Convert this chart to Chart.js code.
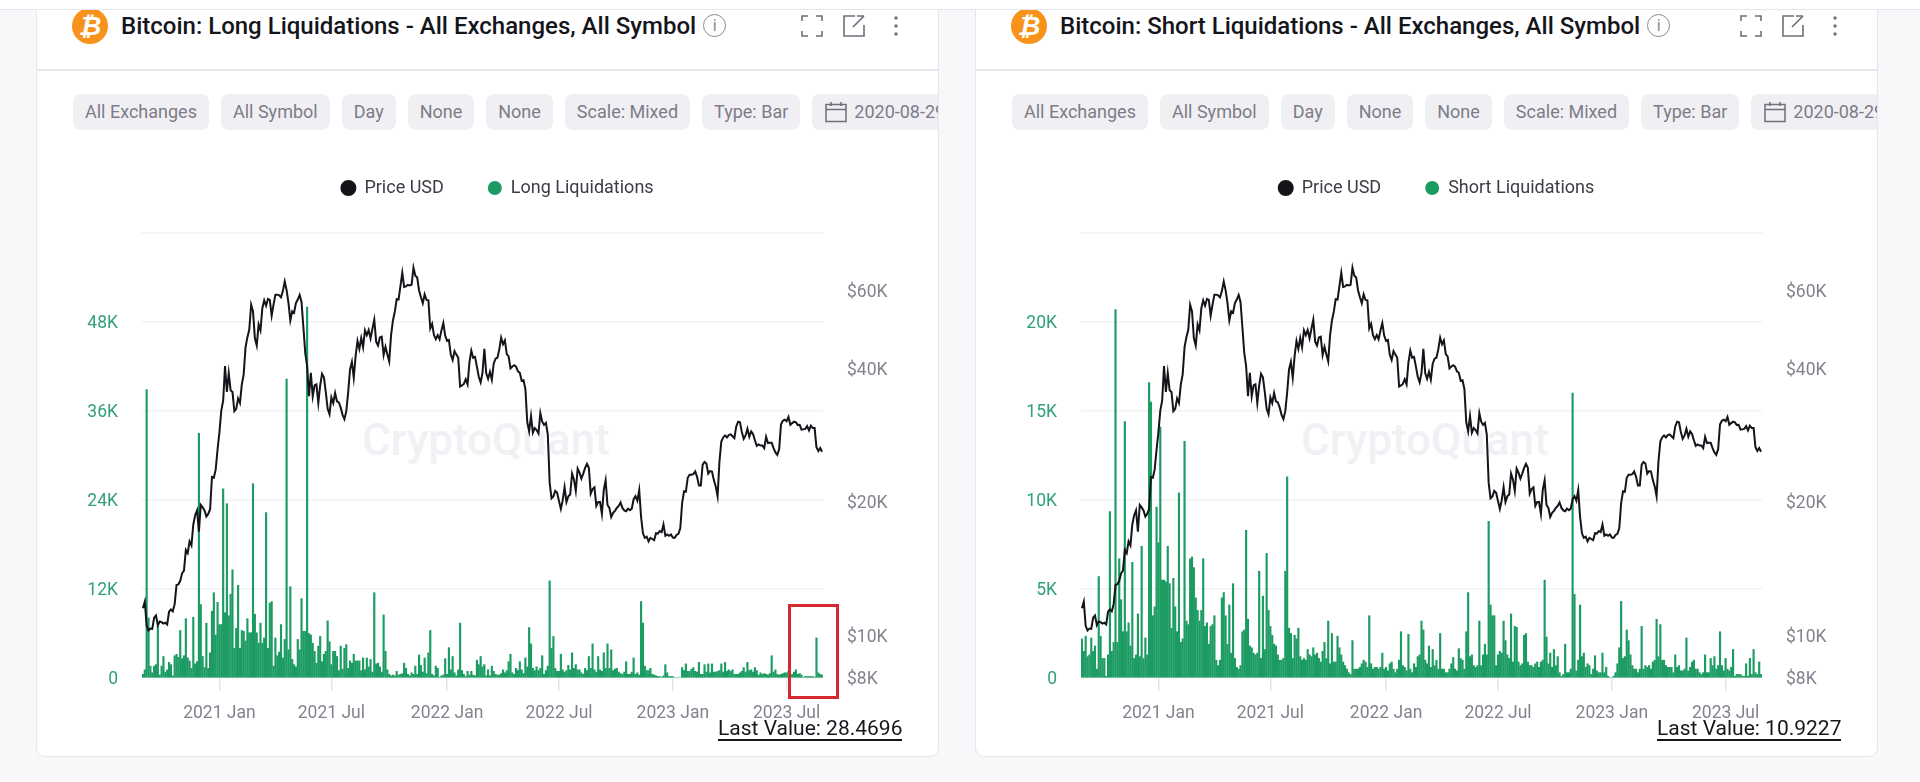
<!DOCTYPE html>
<html>
<head>
<meta charset="utf-8">
<title>Bitcoin Liquidations</title>
<script src="https://cdn.jsdelivr.net/npm/chart.js@4/dist/chart.umd.min.js"></script>
<style>
html, body { margin: 0; padding: 0; width: 1920px; height: 782px; overflow: hidden; background: #f8f8fb; font-family: Roboto, sans-serif; }
#topStrip { position: absolute; left: 0; top: 0; width: 1920px; height: 9px; background: #fff; border-bottom: 1px solid #e4e4ea; }
.card { position: absolute; top: 10px; width: 901px; height: 746px; background: #fff; overflow: hidden; box-shadow: 0 0 0 1px #e6e6ee; border-radius: 0 0 8px 8px; }
.card > * { position: absolute; }
.coin { left: 35px; top: -2px; width: 36px; height: 36px; border-radius: 50%; background: #f7931a; color: #fff; font: italic bold 26px "DejaVu Sans", sans-serif; line-height: 36px; text-align: center; }
.title { left: 84px; top: 2px; font-size: 24px; font-weight: 500; color: #15151c; line-height: 28px; white-space: nowrap; display: flex; align-items: center; gap: 7px; }
.info { width: 21px; height: 21px; border: 1px solid #8a8994; border-radius: 50%; color: #8a8994; font-size: 16px; font-weight: 400; line-height: 21px; text-align: center; margin-top: -2px; }
.divider { left: 0; top: 59px; width: 100%; height: 2px; background: #e6e6ec; }
.chips { left: 36px; top: 84px; display: flex; gap: 12px; white-space: nowrap; }
.chip { flex: none; height: 36px; line-height: 36px; padding: 0 12px; background: #f0f0f4; border-radius: 8px; font-size: 18px; color: #7d7c88; display: flex; align-items: center; gap: 7px; }
.chip.date { min-width: 160px; box-sizing: border-box; padding-left: 13px; }
.mark { left: 325px; top: 405px; font-size: 44px; font-weight: 500; color: #f1f1f5; white-space: nowrap; line-height: 50px; }
canvas { left: 20px; top: 125px; }
.lastValue { left: 681px; top: 707px; font-size: 21px; color: #16161c; line-height: 22px; white-space: nowrap; border-bottom: 2px solid #16161c; }
.redBox { left: 751px; top: 594px; width: 45px; height: 89px; border: 3px solid #d7282f; }
svg { display: block; }
.icon { top: 5px; }
</style>
</head>
<body>
<div id="topStrip"></div>
<script>
// ------------------ Dados ------------------
const startDate = '2020-08-29';
const stepDays = 3;

const priceValues = [
11500,11900,10500,10250,10350,10330,10950,11080,10530,10740,10700,10620,10670,10570,11300,11430,11320,11750,12990,13030,13270,13800,14000,15580,15330,16300,15960,17800,18680,19160,17150,19700,19450,19150,18550,18800,19270,22800,22700,23700,26300,28800,
32200,33900,40600,35500,39150,35800,35500,32100,32500,34300,33500,36900,38900,44800,47200,49100,55900,54000,47000,45200,50400,48900,54900,57200,55600,57600,57300,52800,55900,58900,58900,58700,58100,60000,63100,60300,56400,51500,54000,53600,56400,57400,58800,56700,49700,43500,40600,34700,39200,34700,36700,36900,33500,36700,39000,38300,35500,32500,31600,34500,33500,35300,33800,33600,32700,31500,30800,32100,35400,39900,41500,38200,42800,46300,44400,47000,44800,48900,47700,49000,46900,49300,51700,46100,45200,47100,47300,43000,44900,43200,41600,47700,51500,53900,57500,57400,61500,66000,61300,61500,62000,61800,62000,67800,65000,64400,60200,58100,56300,59000,57300,57200,49400,50600,47700,46700,47700,46700,48900,50800,47600,46300,
46500,43100,41900,43900,43100,42400,36500,36700,37000,37900,36900,41400,44000,42400,42600,40500,38400,37300,39200,44400,39100,38000,39400,37800,41100,42200,42400,44300,47100,45500,46400,43200,42700,40100,40500,40800,40500,39500,39200,37600,37700,36000,30300,28900,31300,28700,29400,29100,28600,31800,30400,29900,30200,28400,22100,20400,20600,21200,21000,20100,19300,20200,21600,20000,20600,20800,23200,22500,21200,23800,23300,22600,23200,23900,24400,23900,20900,21400,21600,19600,20000,20000,18800,21300,22400,19700,19400,18500,18900,19100,19400,19600,19950,19400,19150,19070,19330,19170,19330,20300,20630,20150,21300,18500,17000,16600,16700,16300,16600,16500,16400,17000,16970,17200,17100,17800,16780,16900,16780,16900,16630,
16600,16850,16950,17450,19900,21150,21100,22700,23050,23050,23130,23450,22800,21800,21800,24300,24640,24450,23200,23500,23450,22420,21700,20600,24700,27400,28000,28300,28000,28350,28450,28170,27900,29650,30400,30300,28800,27800,28300,29300,28100,28900,28500,27600,26800,27000,26850,26850,26480,28080,27200,27250,27230,26500,25900,25570,26340,30000,30550,30700,30470,31150,29900,30170,30400,30290,29860,29900,29170,29200,29270,29700,29050,29760,29400,29400,26600,26100,26500,26000
];

const longValues = [
500,1100,38900,8100,1600,700,1600,1800,7000,400,1600,2900,800,1100,2100,1800,300,3000,3200,2800,
6400,2600,3000,8000,2700,2300,1300,8200,1900,2200,33000,9900,2900,1400,7400,1300,3400,9000,11500,5800,
10200,7200,7200,25500,8800,23500,8400,11300,14600,4000,6700,12500,4000,6400,6300,5000,8000,6100,6100,26200,
8600,6100,4700,7400,4700,5400,22300,4000,10100,10300,1600,5400,3000,3500,7200,2700,5200,40300,3800,12300,
2500,1800,1500,5200,3800,10700,6300,6300,50000,6000,5800,4700,3600,2000,4300,5600,2200,3200,3600,7700,
4900,1800,3600,3600,2900,1000,4300,1200,4000,4500,1300,2300,2000,3200,2300,2300,2300,1000,2700,1100,
2700,1500,2500,800,11500,1900,2000,1500,800,8500,3600,1100,500,300,400,300,900,400,500,600,
2000,1300,500,300,700,500,1600,500,3100,1700,800,2700,600,3400,6400,500,300,1600,1300,100,
300,400,2600,500,4100,1100,2900,700,300,1100,7400,1000,500,200,900,400,900,400,300,2400,
1800,2900,1500,1800,300,1100,300,1600,900,500,400,400,600,1100,700,1000,2200,3200,700,500,
1300,1000,2200,1100,600,2700,1500,6800,4600,1300,1000,1500,1000,1300,3000,500,1000,1600,13100,4000,
5600,1300,900,900,3200,1100,800,1000,1700,1100,3400,1300,1800,1100,1100,700,500,1300,1000,2900,
1300,4600,1100,800,2900,1100,900,3400,1300,4600,1300,3800,1000,1200,1300,800,600,500,800,2200,
500,500,800,2700,500,700,400,10300,7400,1600,1000,1000,1300,500,400,300,200,200,100,300,
1800,700,200,200,200,0,0,0,0,1400,1000,1900,900,900,1200,1400,900,800,2100,500,
500,1800,800,1900,700,1900,800,800,900,1000,1900,800,2100,900,1100,900,1100,500,500,500,
700,900,1400,800,2100,1000,1100,800,1400,1000,400,700,500,600,500,400,600,3000,800,1100,
500,400,500,600,700,700,900,300,500,800,1100,500,600,400,100,200,200,200,200,200,
100,5400,700,500,400
];

const shortValues = [
2200,1500,2350,1200,1300,2250,1500,1800,500,5700,2350,1100,1100,100,1300,9350,1500,2000,20700,2000,
6700,4400,2600,14400,2600,3100,1800,6500,1100,1300,3600,1200,7400,1100,2250,1300,16600,15500,3500,4000,
9600,7600,14100,5500,5500,5400,7400,5300,2800,5600,4000,2600,10400,2000,2200,13300,3200,3000,6700,6800,
6200,4500,3800,3200,3800,6700,2900,3100,1900,2900,3000,3500,1000,700,1000,4500,4800,3500,1900,4100,
1400,5300,1100,600,500,700,2600,2700,8300,3300,1800,1700,1400,1300,1400,6000,1100,4600,1600,7000,
3800,2900,2400,1900,1800,1300,1000,1000,1100,6000,11300,2800,2500,1100,2400,2200,2800,1200,1000,1100,
1000,1600,1300,1200,1700,1300,1400,1100,900,1500,2000,1100,3200,800,2500,900,900,2350,1700,1300,
900,700,500,300,200,2100,500,500,500,600,800,1000,900,600,3500,800,500,600,600,500,
600,1400,500,600,400,800,900,500,300,500,1000,2600,700,600,400,2450,500,300,800,600,
1200,1300,3200,2700,1000,800,1800,600,1600,700,1000,500,2500,500,500,300,300,500,800,1150,
500,400,1650,1100,1000,500,2600,4800,1200,1300,700,600,700,3200,700,1300,1900,1300,8800,4100,
3500,3500,700,1300,1500,1400,3200,2100,1300,1100,3600,900,2900,2850,900,700,800,2400,2500,900,
700,700,600,800,900,600,900,1000,5500,2300,800,1400,600,1600,700,1200,300,100,200,1900,
300,300,500,16000,4700,400,1000,4100,1200,1400,600,800,700,200,500,1250,400,300,300,1400,
300,600,100,0,0,100,300,800,1700,4300,1100,1200,2700,2100,1300,700,500,500,300,500,
2900,500,700,600,700,500,900,1000,3300,1200,3000,1000,1000,700,600,600,600,300,1300,600,
700,400,400,500,2250,400,600,900,1000,500,500,300,200,300,1300,300,300,1100,700,1200,
500,700,2600,700,400,1100,500,400,600,1600,100,200,200,200,100,100,800,100,1100,200,
1600,300,200,900,200
];

const xTickLabels = ['2021 Jan','2021 Jul','2022 Jan','2022 Jul','2023 Jan','2023 Jul'];
const xTickMonths = ['2021-01','2021-07','2022-01','2022-07','2023-01','2023-07'];
const priceTicks = [8000,10000,20000,40000,60000];
const longTicks = [0,12000,24000,36000,48000,60000];
const shortTicks = [0,5000,10000,15000,20000,25000];
const chipLabels = ['All Exchanges','All Symbol','Day','None','None','Scale: Mixed','Type: Bar'];
const dateChip = '2020-08-29';

// uma data por barra
const dateLabels = priceValues.map((_, i) => {
    let d = new Date(startDate + 'T00:00:00Z');
    d.setUTCDate(d.getUTCDate() + i * stepDays);
    return d.toISOString().slice(0, 10);
});

// marca na ultima barra antes do mes comecar
const xTickIndexes = xTickMonths.map(m => dateLabels.findIndex(d => d.startsWith(m)) - 1);

// ------------------ Icones ------------------
const iconExpand = '<svg width="22" height="22" fill="none" stroke="#6f6e7a" stroke-width="1.6"><path d="M1 6V1h6M15 1h6v5M21 16v5h-6M7 21H1v-5"/></svg>';
const iconOpen = '<svg width="22" height="22" fill="none" stroke="#6f6e7a" stroke-width="1.6"><path d="M12 1H1v20h20V10M21 1L10 12M14 1h7v0"/></svg>';
const iconDots = '<svg width="6" height="22" fill="#6f6e7a"><circle cx="3" cy="3" r="1.7"/><circle cx="3" cy="11" r="1.7"/><circle cx="3" cy="19" r="1.7"/></svg>';
const iconCalendar = '<svg width="22" height="22" fill="none" stroke="#6f6e7a" stroke-width="1.5"><path d="M1 3.5h20v17H1zM1 8.5h20M6 1v4M16 1v4"/></svg>';

// os rotulos do eixo y ficam um pouco abaixo da linha de grade
function lowerLabels(scale) {
    if (scale._lowered) return;
    scale._lowered = true;
    const compute = scale._computeLabelItems;
    scale._computeLabelItems = function(area) {
        const items = compute.call(this, area);
        items.forEach(item => { item.textOffset += 2; });
        return items;
    };
}

// ------------------ Paineis ------------------
function buildPanel(left, kind, series, ticks, lastValue, withBox) {
    const card = document.createElement('div');
    card.className = 'card';
    card.style.left = left + 'px';

    const chips = chipLabels.map(c => `<div class="chip">${c}</div>`).join('');
    card.innerHTML = `
        <div class="coin">₿</div>
        <div class="title">Bitcoin: ${kind} Liquidations - All Exchanges, All Symbol<div class="info">i</div></div>
        <div class="icon" style="left:764px">${iconExpand}</div>
        <div class="icon" style="left:806px">${iconOpen}</div>
        <div class="icon" style="left:856px">${iconDots}</div>
        <div class="divider"></div>
        <div class="chips">${chips}<div class="chip date">${iconCalendar}${dateChip}</div></div>
        <div class="mark">CryptoQuant</div>
        <canvas width="881" height="620"></canvas>
        <div class="lastValue">Last Value: ${lastValue}</div>
        ${withBox ? '<div class="redBox"></div>' : ''}`;
    document.body.appendChild(card);

    const chart = new Chart(card.querySelector('canvas').getContext('2d'), {
        type: 'bar',
        data: {
            labels: dateLabels,
            datasets: [
                { type: 'line', label: 'Price USD', data: priceValues, yAxisID: 'y1', order: 0,
                  borderColor: '#14141a', backgroundColor: '#14141a', borderWidth: 2, pointRadius: 0, tension: 0 },
                { type: 'bar', label: kind + ' Liquidations', data: series, yAxisID: 'y', order: 1,
                  backgroundColor: '#1c9c63', borderWidth: 0, barThickness: 1.5 }
            ]
        },
        options: {
            responsive: false,
            animation: false,
            layout: { padding: 0 },
            plugins: {
                tooltip: { enabled: false },
                legend: {
                    position: 'top',
                    labels: {
                        usePointStyle: true, pointStyle: 'circle', boxWidth: 14, boxHeight: 10, pointStyleWidth: 14,
                        padding: 44, color: '#3c3c46', font: { family: 'Roboto', size: 18 }
                    }
                }
            },
            scales: {
                x: {
                    type: 'category',
                    offset: true,
                    afterBuildTicks: s => { s.ticks = xTickIndexes.map(i => ({ value: i })); },
                    afterFit: s => { s.height = 77; },
                    ticks: {
                        autoSkip: false, maxRotation: 0, padding: 12, color: '#83828e',
                        font: { family: 'Roboto', size: 17.5 },
                        callback: (v, i) => xTickLabels[i]
                    },
                    grid: { offset: false, drawOnChartArea: false, drawTicks: true, tickLength: 13, color: '#e4e4e8', lineWidth: 1.5 },
                    border: { display: false }
                },
                y: {
                    position: 'left',
                    min: 0,
                    max: ticks[ticks.length - 1],
                    afterBuildTicks: s => { s.ticks = ticks.map(v => ({ value: v })); lowerLabels(s); },
                    afterFit: s => { s.width = 85; },
                    ticks: {
                        padding: 24, color: '#33a077', font: { family: 'Roboto', size: 17.5 },
                        callback: v => (v === ticks[ticks.length - 1] ? '' : v === 0 ? '0' : v / 1000 + 'K')
                    },
                    grid: { color: '#f2f2f4', lineWidth: 1.5, drawTicks: false },
                    border: { display: false }
                },
                y1: {
                    type: 'logarithmic',
                    position: 'right',
                    min: 8000,
                    max: 81200,
                    afterBuildTicks: s => { s.ticks = priceTicks.map(v => ({ value: v })); lowerLabels(s); },
                    afterFit: s => { s.width = 115; },
                    ticks: {
                        padding: 24, color: '#83828e', font: { family: 'Roboto', size: 17.5 },
                        callback: v => '$' + v / 1000 + 'K'
                    },
                    grid: { display: false, drawTicks: false },
                    border: { display: false }
                }
            }
        }
    });

    // a legenda precisa de espaco lateral maior que o vertical
    const fitLegend = chart.legend.fit;
    chart.legend.fit = function() {
        fitLegend.call(this);
        this.height = 98;
    };
    chart.update();
}

buildPanel(37, 'Long', longValues, longTicks, '28.4696', true);
buildPanel(976, 'Short', shortValues, shortTicks, '10.9227', false);
</script>
</body>
</html>
